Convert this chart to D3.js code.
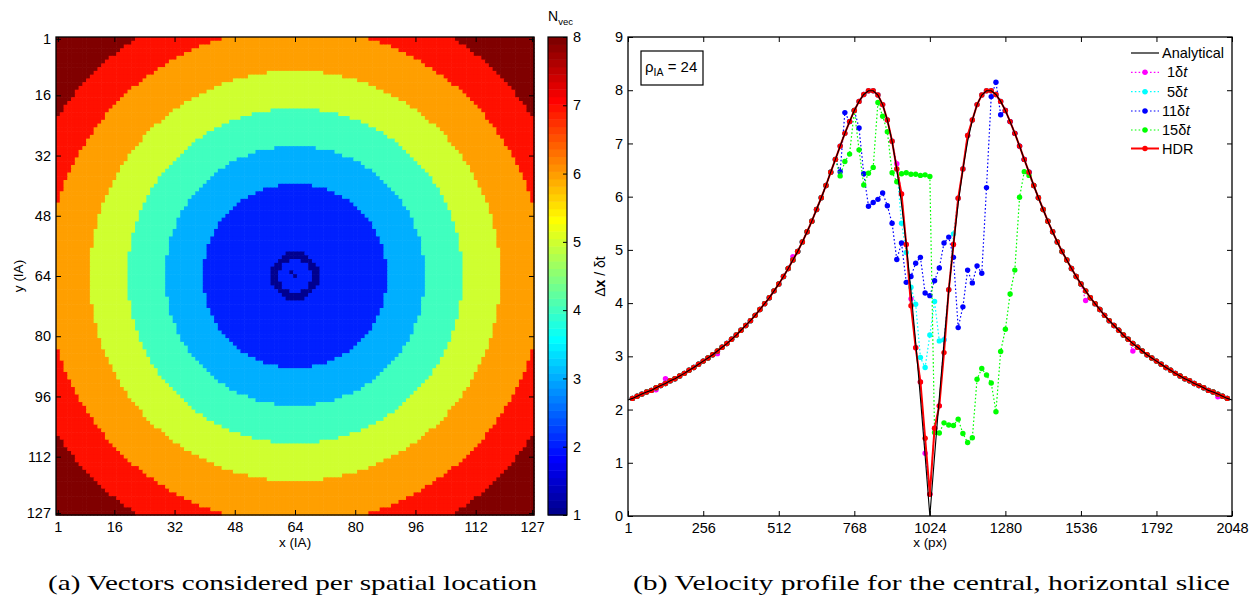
<!DOCTYPE html>
<html><head><meta charset="utf-8">
<script src="https://cdn.jsdelivr.net/npm/d3@7"></script>
<style>body{margin:0;background:#fff} svg{display:block}</style>
</head><body><svg id="c" width="1260" height="598"></svg>
<script>
// ---------------- DATA ----------------
// (a) heat map: 127 x 127 interrogation areas, ring boundaries
const gridSize = 127;
const gridTicks = [1,16,32,48,64,80,96,112,127];
const ringCenter = [64, 64];
const ringEdges = [24.5, 34.5, 44.5, 54.5, 66, 76];   // value 2 inside first edge, +1 per edge crossed
const coreRing = [4.3, 6.4];                           // thin ring of value 1 around the centre
const coreCells = [[63,63],[64,64]];                   // isolated value-1 cells
const cbarTicks = [1,2,3,4,5,6,7,8];

// (b) velocity profile
const xTicks = [1,256,512,768,1024,1280,1536,1792,2048];
const yTicks = [0,1,2,3,4,5,6,7,8,9];
const xs = [16,32,48,64,80,96,112,128,144,160,
176,192,208,224,240,256,272,288,304,320,
336,352,368,384,400,416,432,448,464,480,
496,512,528,544,560,576,592,608,624,640,
656,672,688,704,720,736,752,768,784,800,
816,832,848,864,880,896,912,928,944,960,
976,992,1008,1024,1040,1056,1072,1088,1104,1120,
1136,1152,1168,1184,1200,1216,1232,1248,1264,1280,
1296,1312,1328,1344,1360,1376,1392,1408,1424,1440,
1456,1472,1488,1504,1520,1536,1552,1568,1584,1600,
1616,1632,1648,1664,1680,1696,1712,1728,1744,1760,
1776,1792,1808,1824,1840,1856,1872,1888,1904,1920,
1936,1952,1968,1984,2000,2016,2032];
const analyticalX = [1].concat(xs, [2048]);
const analyticalY = [2.18,
2.21,2.25,2.29,2.33,2.36,2.41,2.45,2.49,2.54,2.58,
2.63,2.68,2.74,2.79,2.85,2.91,2.97,3.03,3.10,3.17,
3.24,3.32,3.40,3.49,3.58,3.67,3.77,3.88,3.99,4.10,
4.23,4.36,4.50,4.65,4.81,4.97,5.15,5.34,5.54,5.76,
5.98,6.21,6.46,6.70,6.95,7.19,7.41,7.62,7.79,7.92,
7.99,7.99,7.91,7.73,7.44,7.04,6.52,5.87,5.10,4.23,
3.26,2.22,1.13,0,1.13,2.22,3.26,4.23,5.10,5.87,
6.52,7.04,7.44,7.73,7.91,7.99,7.99,7.92,7.79,7.62,
7.41,7.19,6.95,6.70,6.46,6.21,5.98,5.76,5.54,5.34,
5.15,4.97,4.81,4.65,4.50,4.36,4.23,4.10,3.99,3.88,
3.77,3.67,3.58,3.49,3.40,3.32,3.24,3.17,3.10,3.03,
2.97,2.91,2.85,2.79,2.74,2.68,2.63,2.58,2.54,2.49,
2.45,2.41,2.36,2.33,2.29,2.25,2.21,
2.18];
const hdr = [2.21,2.25,2.29,2.33,2.36,2.41,2.45,2.49,2.54,2.58,
2.63,2.68,2.74,2.79,2.85,2.91,2.97,3.03,3.10,3.17,
3.24,3.32,3.40,3.49,3.58,3.67,3.77,3.88,3.99,4.10,
4.23,4.36,4.50,4.65,4.81,4.97,5.15,5.34,5.54,5.76,
5.98,6.21,6.46,6.70,6.95,7.19,7.41,7.62,7.79,7.92,
7.99,7.99,7.91,7.73,7.44,7.04,6.52,6.05,5.10,3.95,
3.16,2.52,1.46,0.41,1.65,2.07,3.07,4.25,5.10,5.97,
6.52,7.15,7.44,7.73,7.91,7.99,7.99,7.92,7.79,7.62,
7.41,7.19,6.95,6.70,6.46,6.21,5.98,5.76,5.54,5.34,
5.15,4.97,4.81,4.65,4.50,4.36,4.23,4.10,3.99,3.88,
3.77,3.67,3.58,3.49,3.40,3.32,3.24,3.17,3.10,3.03,
2.97,2.91,2.85,2.79,2.74,2.68,2.63,2.58,2.54,2.49,
2.45,2.41,2.36,2.33,2.29,2.25,2.21];
const dt1 = [2.21,2.25,2.29,2.33,2.36,2.37,2.45,2.58,2.54,2.58,
2.63,2.68,2.74,2.79,2.85,2.91,2.97,3.03,3.05,3.17,
3.24,3.32,3.40,3.49,3.58,3.67,3.77,3.88,3.99,4.10,
4.23,4.36,4.50,4.65,4.87,4.97,5.15,5.34,5.54,5.76,
5.98,6.21,6.46,6.70,6.95,7.19,7.41,7.62,7.79,7.92,
7.99,7.99,7.91,7.73,7.44,7.04,6.62,6.05,5.10,4.08,
3.16,2.52,1.18,0.41,1.65,2.07,3.31,4.25,5.10,5.97,
6.52,7.15,7.44,7.73,7.91,7.99,7.99,7.92,7.79,7.62,
7.41,7.19,6.95,6.70,6.46,6.21,5.98,5.76,5.54,5.34,
5.15,4.97,4.81,4.65,4.50,4.36,4.05,4.10,3.99,3.88,
3.77,3.67,3.58,3.49,3.40,3.32,3.10,3.17,3.10,3.03,
2.97,2.91,2.85,2.79,2.74,2.68,2.63,2.58,2.54,2.49,
2.45,2.41,2.36,2.33,2.24,2.25,2.21];
const dt5 = [2.21,2.25,2.29,2.33,2.36,2.41,2.45,2.49,2.54,2.58,
2.63,2.68,2.74,2.79,2.85,2.91,2.97,3.03,3.10,3.17,
3.24,3.32,3.40,3.49,3.58,3.67,3.77,3.88,3.99,4.10,
4.23,4.36,4.50,4.65,4.81,4.97,5.15,5.34,5.54,5.76,
5.98,6.21,6.46,6.70,6.95,7.19,7.41,7.62,7.79,7.92,
7.99,7.99,7.91,7.73,7.44,7.04,6.52,5.50,4.95,4.30,
3.98,2.98,2.79,3.40,4.03,3.29,3.31,4.25,5.30,5.97,
6.52,7.15,7.44,7.73,7.91,7.99,7.99,7.92,7.79,7.62,
7.41,7.19,6.95,6.70,6.46,6.21,5.98,5.76,5.54,5.34,
5.15,4.97,4.81,4.65,4.50,4.36,4.23,4.10,3.99,3.88,
3.77,3.67,3.58,3.49,3.40,3.32,3.24,3.17,3.10,3.03,
2.97,2.91,2.85,2.79,2.74,2.68,2.63,2.58,2.54,2.49,
2.45,2.41,2.36,2.33,2.29,2.25,2.21];
const dt11 = [2.21,2.25,2.29,2.33,2.36,2.41,2.45,2.49,2.54,2.58,
2.63,2.68,2.74,2.79,2.85,2.91,2.97,3.03,3.10,3.17,
3.24,3.32,3.40,3.49,3.58,3.67,3.77,3.88,3.99,4.10,
4.23,4.36,4.50,4.65,4.81,4.97,5.15,5.34,5.54,5.76,
5.98,6.21,6.46,6.70,6.47,7.58,7.41,7.62,7.29,6.43,
5.82,5.89,5.95,6.07,5.83,5.50,4.82,5.13,4.39,4.50,
4.75,4.86,4.19,4.14,4.42,4.66,5.13,5.24,4.86,3.54,
3.93,4.62,4.38,4.70,4.56,6.17,7.88,8.15,7.54,7.62,
7.41,7.19,6.95,6.70,6.46,6.21,5.98,5.76,5.54,5.34,
5.15,4.97,4.81,4.65,4.50,4.36,4.23,4.10,3.99,3.88,
3.77,3.67,3.58,3.49,3.40,3.32,3.24,3.17,3.10,3.03,
2.97,2.91,2.85,2.79,2.74,2.68,2.63,2.58,2.54,2.49,
2.45,2.41,2.36,2.33,2.29,2.25,2.21];
const dt15 = [2.21,2.25,2.29,2.33,2.36,2.41,2.45,2.49,2.54,2.58,
2.63,2.68,2.74,2.79,2.85,2.91,2.97,3.03,3.10,3.17,
3.24,3.32,3.40,3.49,3.58,3.67,3.77,3.88,3.99,4.10,
4.23,4.36,4.50,4.65,4.81,4.97,5.15,5.34,5.54,5.76,
5.98,6.21,6.46,6.70,6.39,6.66,6.80,7.62,6.88,6.22,
6.44,6.55,7.77,7.51,7.22,6.45,6.28,6.43,6.45,6.42,
6.42,6.40,6.41,6.38,1.57,1.56,1.75,1.71,1.70,1.82,
1.55,1.38,1.47,2.57,2.77,2.65,2.50,1.96,3.09,3.51,
4.17,4.62,5.99,6.47,6.40,6.21,5.98,5.76,5.54,5.34,
5.15,4.97,4.81,4.65,4.50,4.36,4.23,4.10,3.99,3.88,
3.77,3.67,3.58,3.49,3.40,3.32,3.24,3.17,3.10,3.03,
2.97,2.91,2.85,2.79,2.74,2.68,2.63,2.58,2.54,2.49,
2.45,2.41,2.36,2.33,2.29,2.25,2.21];

const seriesNames = ['Analytical','1δt','5δt','11δt','15δt','HDR'];
const seriesColors = ['#000000','#ff00ff','#00ffff','#0000ff','#00ff00','#ff0000'];

// ---------------- HELPERS ----------------
const svg = d3.select('#c');
const sans = "'Liberation Sans', Arial, Helvetica, sans-serif";
const serif = "'Liberation Serif', 'Times New Roman', serif";

// MATLAB jet(64)
const jetU = [];
for (let k=1;k<=16;k++) jetU.push(k/16);
for (let k=0;k<15;k++) jetU.push(1);
for (let k=16;k>=1;k--) jetU.push(k/16);
function jetIdx(idx){
  const pick = j => (j>=1 && j<=47) ? jetU[j-1] : 0;
  const r = pick(idx-24), g = pick(idx-8), b = pick(idx+8);
  return d3.rgb(r*255, g*255, b*255).formatHex();
}
const cmin = 1, cmax = 8;
function colorOf(v){
  let idx = Math.floor((v-cmin)/(cmax-cmin)*64)+1;
  idx = Math.max(1, Math.min(64, idx));
  return jetIdx(idx);
}

// ---------------- (a) HEAT MAP ----------------
const A = {x0:56, x1:534, y0:37, y1:515};
const hx = d3.scaleLinear().domain([0.5, gridSize+0.5]).range([A.x0, A.x1]);
const hy = d3.scaleLinear().domain([0.5, gridSize+0.5]).range([A.y0, A.y1]);
const cells = [];
for (let r=1;r<=gridSize;r++) for (let c=1;c<=gridSize;c++){
  const d = Math.hypot(c-ringCenter[0], r-ringCenter[1]);
  let v = 2 + ringEdges.filter(e => d >= e).length;
  if (d >= coreRing[0] && d <= coreRing[1]) v = 1;
  if (coreCells.some(p => p[0]===c && p[1]===r)) v = 1;
  cells.push({c, r, v});
}
const cw = hx(1.5)-hx(0.5), ch = hy(1.5)-hy(0.5);
svg.append('g').selectAll('rect').data(cells).join('rect')
  .attr('x', d=>hx(d.c-0.5)).attr('y', d=>hy(d.r-0.5))
  .attr('width', cw+0.6).attr('height', ch+0.6)
  .attr('fill', d=>colorOf(d.v));

function styleAxis(g, size){
  g.select('.domain').remove();
  g.selectAll('line').attr('stroke','#000').attr('stroke-width',1);
  g.selectAll('text').attr('font-family', sans).attr('font-size', size).attr('fill','#000');
}
svg.append('g').attr('transform',`translate(0,${A.y1})`)
  .call(d3.axisBottom(hx).tickValues(gridTicks).tickSize(-5).tickPadding(7).tickFormat(d3.format('d')))
  .call(g=>styleAxis(g,14.5));
svg.append('g').attr('transform',`translate(0,${A.y0})`)
  .call(d3.axisTop(hx).tickValues(gridTicks).tickSize(-5).tickFormat(''))
  .call(g=>styleAxis(g,14.5));
svg.append('g').attr('transform',`translate(${A.x0},0)`)
  .call(d3.axisLeft(hy).tickValues(gridTicks).tickSize(-5).tickPadding(5).tickFormat(d3.format('d')))
  .call(g=>styleAxis(g,14.5));
svg.append('g').attr('transform',`translate(${A.x1},0)`)
  .call(d3.axisRight(hy).tickValues(gridTicks).tickSize(-5).tickFormat(''))
  .call(g=>styleAxis(g,14.5));
svg.append('rect').attr('x',A.x0).attr('y',A.y0).attr('width',A.x1-A.x0).attr('height',A.y1-A.y0)
  .attr('fill','none').attr('stroke','#000').attr('stroke-width',1.3);
svg.append('text').attr('x',(A.x0+A.x1)/2).attr('y',547).attr('text-anchor','middle')
  .attr('font-family',sans).attr('font-size',13.5).text('x (IA)');
svg.append('text').attr('transform',`translate(23,${(A.y0+A.y1)/2}) rotate(-90)`).attr('text-anchor','middle')
  .attr('font-family',sans).attr('font-size',13.5).text('y (IA)');

// colorbar
const CB = {x0:548, x1:567, y0:37, y1:515};
const cy = d3.scaleLinear().domain([cmin,cmax]).range([CB.y1, CB.y0]);
const bands = d3.range(1,65);
svg.append('g').selectAll('rect').data(bands).join('rect')
  .attr('x',CB.x0).attr('width',CB.x1-CB.x0)
  .attr('y', j=>cy(cmin+j*(cmax-cmin)/64))
  .attr('height', j=>cy(cmin+(j-1)*(cmax-cmin)/64)-cy(cmin+j*(cmax-cmin)/64)+0.5)
  .attr('fill', j=>jetIdx(j));
svg.append('g').attr('transform',`translate(${CB.x1},0)`)
  .call(d3.axisRight(cy).tickValues(cbarTicks).tickSize(-4).tickPadding(6).tickFormat(d3.format('d')))
  .call(g=>styleAxis(g,14.5));
svg.append('rect').attr('x',CB.x0).attr('y',CB.y0).attr('width',CB.x1-CB.x0).attr('height',CB.y1-CB.y0)
  .attr('fill','none').attr('stroke','#000').attr('stroke-width',1.2);
const nv = svg.append('text').attr('x',548).attr('y',21).attr('font-family',sans).attr('font-size',14);
nv.append('tspan').text('N');
nv.append('tspan').attr('font-size',9.5).attr('dy',4).text('vec');

// ---------------- (b) PROFILE ----------------
const B = {x0:628, x1:1232, y0:37, y1:516};
const px = d3.scaleLinear().domain([1,2048]).range([B.x0,B.x1]);
const py = d3.scaleLinear().domain([0,9]).range([B.y1,B.y0]);

svg.append('g').attr('transform',`translate(0,${B.y1})`)
  .call(d3.axisBottom(px).tickValues(xTicks).tickSize(-5).tickPadding(7).tickFormat(d3.format('d')))
  .call(g=>styleAxis(g,14.5));
svg.append('g').attr('transform',`translate(0,${B.y0})`)
  .call(d3.axisTop(px).tickValues(xTicks).tickSize(-5).tickFormat(''))
  .call(g=>styleAxis(g,14.5));
svg.append('g').attr('transform',`translate(${B.x0},0)`)
  .call(d3.axisLeft(py).tickValues(yTicks).tickSize(-5).tickPadding(5).tickFormat(d3.format('d')))
  .call(g=>styleAxis(g,14.5));
svg.append('g').attr('transform',`translate(${B.x1},0)`)
  .call(d3.axisRight(py).tickValues(yTicks).tickSize(-5).tickFormat(''))
  .call(g=>styleAxis(g,14.5));

const plotG = svg.append('g');
const line = d3.line().x(d=>px(d[0])).y(d=>py(d[1]));
function drawSeries(vals, color, dotted, lw){
  const pts = xs.map((x,i)=>[x, vals[i]]);
  plotG.append('path').attr('d', line(pts)).attr('fill','none').attr('stroke',color)
    .attr('stroke-width',lw).attr('stroke-dasharray', dotted ? '1.6,2.2' : null);
  plotG.append('g').selectAll('circle').data(pts).join('circle')
    .attr('cx',d=>px(d[0])).attr('cy',d=>py(d[1])).attr('r',2.7).attr('fill',color);
}
drawSeries(dt1, seriesColors[1], true, 1.2);
drawSeries(dt5, seriesColors[2], true, 1.2);
drawSeries(dt11, seriesColors[3], true, 1.2);
drawSeries(dt15, seriesColors[4], true, 1.2);
drawSeries(hdr, seriesColors[5], false, 2);
plotG.append('path').attr('d', line(analyticalX.map((x,i)=>[x, analyticalY[i]])))
  .attr('fill','none').attr('stroke','#000').attr('stroke-width',1.1);

svg.append('rect').attr('x',B.x0).attr('y',B.y0).attr('width',B.x1-B.x0).attr('height',B.y1-B.y0)
  .attr('fill','none').attr('stroke','#000').attr('stroke-width',1.3);

svg.append('text').attr('x',(B.x0+B.x1)/2).attr('y',547).attr('text-anchor','middle')
  .attr('font-family',sans).attr('font-size',13.5).text('x (px)');
const yl = svg.append('text').attr('transform',`translate(605,${(B.y0+B.y1)/2}) rotate(-90)`)
  .attr('text-anchor','middle').attr('font-family',sans).attr('font-size',14);
yl.append('tspan').text('Δ');
yl.append('tspan').attr('font-weight','bold').text('x');
yl.append('tspan').text(' / δt');

// rho box
svg.append('rect').attr('x',641).attr('y',51).attr('width',62).attr('height',34)
  .attr('fill','#fff').attr('stroke','#000').attr('stroke-width',1.2);
const rt = svg.append('text').attr('x',645).attr('y',72).attr('font-family',sans).attr('font-size',15);
rt.append('tspan').text('ρ');
rt.append('tspan').attr('font-size',10.5).attr('dy',4).text('IA');
rt.append('tspan').attr('dy',-4).text(' = 24');

// legend
const legRows = [53, 72.3, 91.7, 111, 130, 148.5];
const legG = svg.append('g');
seriesNames.forEach((name,i)=>{
  const yy = legRows[i];
  legG.append('line').attr('x1',1131).attr('x2',1159).attr('y1',yy).attr('y2',yy)
    .attr('stroke',seriesColors[i]).attr('stroke-width', i===0?1.2:(i===5?2:1.2))
    .attr('stroke-dasharray', (i>0 && i<5) ? '1.6,2.2' : null);
  if (i>0) legG.append('circle').attr('cx',1145).attr('cy',yy).attr('r',2.7).attr('fill',seriesColors[i]);
  const t = legG.append('text').attr('x', (i===1||i===2)?1167:1162).attr('y',yy+5)
    .attr('font-family',sans).attr('font-size',14.5);
  if (i===0 || i===5) t.text(name);
  else { t.append('tspan').text(name.slice(0,-1)); t.append('tspan').attr('font-style','italic').text('t'); }
});

// captions
svg.append('text').attr('x',48).attr('y',590).attr('font-family',serif).attr('font-size',21)
  .attr('textLength',489).attr('lengthAdjust','spacingAndGlyphs')
  .text('(a) Vectors considered per spatial location');
svg.append('text').attr('x',633).attr('y',590).attr('font-family',serif).attr('font-size',21)
  .attr('textLength',597).attr('lengthAdjust','spacingAndGlyphs')
  .text('(b) Velocity profile for the central, horizontal slice');
</script></body></html>
